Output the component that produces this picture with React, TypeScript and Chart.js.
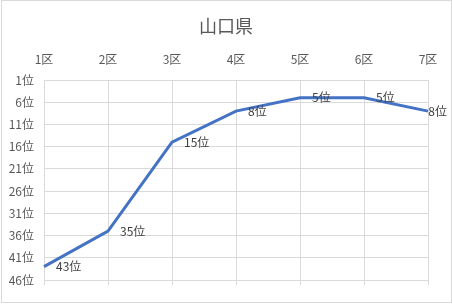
import React, { useEffect, useRef } from "react";
import { Chart, registerables } from "chart.js";

Chart.register(...registerables);

const TITLE = "山口県";
const categories = ["1区", "2区", "3区", "4区", "5区", "6区", "7区"];
const ranks = [43, 35, 15, 8, 5, 5, 8];
const rankSuffix = "位";

const FONT = "'Noto Sans CJK JP', 'Noto Sans', sans-serif";

const extrasPlugin = {
  id: "extras",
  afterDatasetsDraw(chart: any) {
    const ctx = chart.ctx;
    const area = chart.chartArea;
    const xs = chart.scales.x;
    ctx.save();
    // title, centred on the whole chart
    ctx.font = `18px ${FONT}`;
    ctx.fillStyle = "#595959";
    ctx.textAlign = "center";
    ctx.textBaseline = "middle";
    ctx.fillText(TITLE, chart.width / 2, 26);
    // extended vertical grid ticks below the plot
    ctx.strokeStyle = "#d9d9d9";
    ctx.lineWidth = 1;
    for (let i = 0; i < categories.length; i++) {
      const x = Math.round(xs.getPixelForValue(i)) + 0.5;
      ctx.beginPath();
      ctx.moveTo(x, area.bottom);
      ctx.lineTo(x, area.bottom + 5);
      ctx.stroke();
    }
    // data labels
    ctx.font = `12px ${FONT}`;
    ctx.fillStyle = "#404040";
    ctx.textBaseline = "middle";
    ctx.textAlign = "left";
    const meta = chart.getDatasetMeta(0);
    meta.data.forEach((pt: any, i: number) => {
      const txt = `${ranks[i]}${rankSuffix}`;
      const w = ctx.measureText(txt).width;
      let x = pt.x + 12;
      if (x + w > chart.width - 5) x = chart.width - 5 - w;
      ctx.fillText(txt, x, pt.y);
    });
    // outer border
    ctx.strokeStyle = "#d9d9d9";
    ctx.strokeRect(1.5, 0.5, chart.width - 2, chart.height - 2);
    ctx.restore();
  },
};

export default function App() {
  const ref = useRef<HTMLCanvasElement>(null);
  useEffect(() => {
    document.body.style.margin = "0";
    const chart = new Chart(ref.current!, {
      type: "line",
      data: {
        labels: categories,
        datasets: [
          {
            data: ranks,
            borderColor: "#4472C4",
            borderWidth: 3,
            pointRadius: 0,
            tension: 0,
            fill: false,
          },
        ],
      },
      options: {
        animation: false,
        responsive: false,
        devicePixelRatio: 1,
        layout: { padding: { left: 8, right: 24, top: 37.6, bottom: 24 } },
        plugins: {
          legend: { display: false },
          tooltip: { enabled: false },
          title: { display: false },
        },
        scales: {
          x: {
            position: "top",
            offset: false,
            grid: { color: "#d9d9d9", drawTicks: false },
            border: { display: false },
            ticks: {
              color: "#595959",
              font: { family: FONT, size: 12 },
              padding: 13,
              maxRotation: 0,
            },
            afterFit: (s: any) => {
              s.height = 80 - 37.6;
            },
          },
          y: {
            reverse: true,
            min: 1,
            max: 46,
            grid: { color: "#d9d9d9", drawTicks: false },
            border: { display: false },
            ticks: {
              stepSize: 5,
              color: "#595959",
              font: { family: FONT, size: 12 },
              padding: 10,
              callback: (v: any) => `${v}${rankSuffix}`,
            },
            afterFit: (s: any) => {
              s.width = 36;
            },
          },
        },
      },
      plugins: [extrasPlugin],
    } as any);
    return () => chart.destroy();
  }, []);
  return (
    <div style={{ width: 452, height: 304 }}>
      <canvas ref={ref} width={452} height={304} style={{ display: "block" }} />
    </div>
  );
}
